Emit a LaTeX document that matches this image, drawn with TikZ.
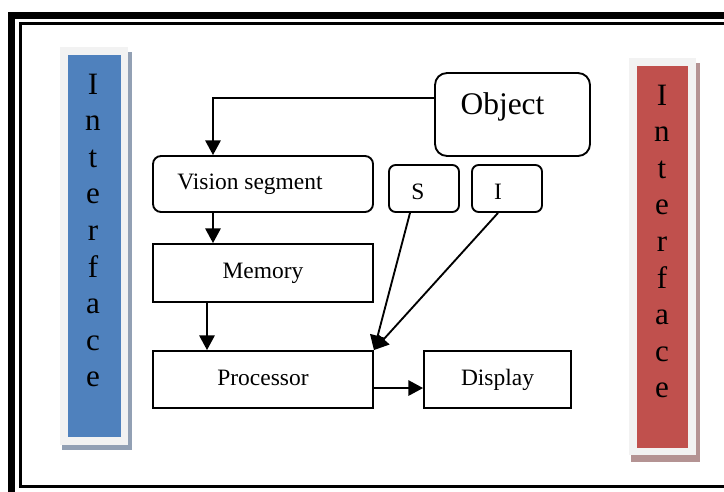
\documentclass[tikz,border=0pt]{standalone}
\usepackage{fontspec}
\setmainfont{Liberation Serif}
\usetikzlibrary{arrows.meta}

\definecolor{ifblue}{RGB}{79,129,189}
\definecolor{ifred}{RGB}{192,80,77}
\definecolor{ifpale}{RGB}{242,242,242}
\definecolor{shblue}{RGB}{146,160,180}
\definecolor{shred}{RGB}{180,147,147}

\begin{document}
\begin{tikzpicture}[x=0.75pt,y=-0.75pt,
   font=\fontsize{17.6}{21}\selectfont,
   blk/.style={draw,line width=1.4pt,inner sep=0pt,text height=12pt,text depth=3.75pt},
   rblk/.style={blk,rounded corners=6pt},
   sblk/.style={rblk,minimum width=52.5pt,minimum height=35.25pt,rounded corners=5pt,
                text height=20pt,text depth=2.8pt},
   arr/.style={line width=1.4pt,-{Triangle[length=11pt,width=11.5pt]}},
   letter/.style={anchor=base,inner sep=0pt,font=\fontsize{23.3}{28}\selectfont}]
  \useasboundingbox (0,0) rectangle (724,492);
  \clip (0,0) rectangle (724,492);
  % page border
  \draw[line width=5.25pt] (11.5,15.5) rectangle (745,495.5);
  \draw[line width=2.25pt] (20.5,23.5) rectangle (735,486);
  % interface bars
  \fill[shblue] (62,52) rectangle (132,450);
  \fill[ifpale] (60,47) rectangle (128,445);
  \fill[ifblue] (68,55) rectangle (121,437);
  \fill[shred] (631,63) rectangle (700,462);
  \fill[ifpale] (629,58) rectangle (696,455);
  \fill[ifred] (637,66) rectangle (688,448);
  \foreach \ch [count=\k] in {I,n,t,e,r,f,a,c,e} {
    \node[letter] (il\k) at (93,{94+36.6*(\k-1)}) {\ch};
    \node[letter] (ir\k) at (662,{105+36.6*(\k-1)}) {\ch};
  }
  % blocks
  \node[rblk,minimum width=116.25pt,minimum height=62.25pt,rounded corners=9pt,
        font=\fontsize{23.6}{28}\selectfont,text height=16pt,text depth=16pt]
        (obj) at (512.5,114.5) {Object\kern15pt};
  \node[rblk,minimum width=165pt,minimum height=42pt] (vis) at (263,184) {Vision segment\kern19.5pt};
  \node[sblk] (s) at (424,188.5) {S\kern9pt};
  \node[sblk] (i) at (507,188.5) {I\kern13.5pt};
  \node[blk,minimum width=165pt,minimum height=43.5pt] (mem) at (263,273) {Memory};
  \node[blk,minimum width=165pt,minimum height=42.75pt] (proc) at (263,379.5) {Processor};
  \node[blk,minimum width=110.25pt,minimum height=42.75pt] (disp) at (497.5,379.5) {Display};
  % connections
  \draw[arr] ([yshift=12.4pt]obj.west) -| ([xshift=-37.5pt]vis.north);
  \draw[arr] ([xshift=-37.5pt]vis.south) -- ([xshift=-37.5pt]mem.north);
  \draw[arr] ([xshift=-42pt]mem.south) -- ([xshift=-42pt]proc.north);
  \draw[arr] ([xshift=-10.5pt]s.south) -- (proc.north east);
  \draw[arr] ([xshift=-6.75pt]i.south) -- (proc.north east);
  \draw[arr] ([yshift=-6.4pt]proc.east) -- ([yshift=-6.4pt]disp.west);
\end{tikzpicture}
\end{document}
